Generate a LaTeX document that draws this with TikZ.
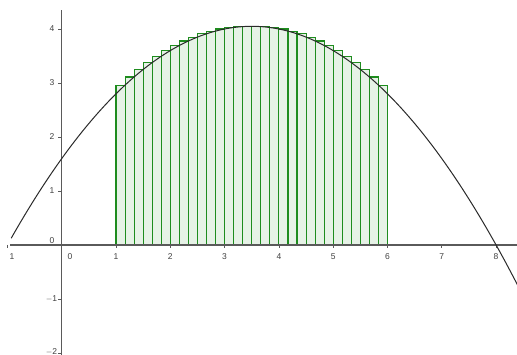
\documentclass[tikz,border=0pt]{standalone}
\usepackage{fontspec}
\setmainfont{Liberation Sans}
\definecolor{axisgray}{HTML}{5A5A5A}
\definecolor{labgray}{HTML}{404040}
\definecolor{rectgreen}{HTML}{1E8C1E}
\definecolor{rectfill}{HTML}{E6F2E6}
\definecolor{curvecol}{HTML}{2A2A2A}
\begin{document}
\begin{tikzpicture}[x=54.3pt,y=54pt,
  lab/.style={font=\fontsize{8.5}{9}\selectfont, text=labgray, inner sep=0pt},
  axisline/.style={draw=axisgray, line width=1.1pt},
  tickline/.style={draw=axisgray, line width=0.8pt},
  rectbar/.style={draw=rectgreen, fill=rectfill, line width=1.1pt},
  curveline/.style={draw=curvecol, line width=1pt}]
\useasboundingbox (-1.1363,-2.0370) rectangle (8.3849,4.5370);
\clip (-1.1363,-2.0370) rectangle (8.3849,4.5370);
% Riemann (upper) sum rectangles
\foreach \i in {0,...,29}{
  \pgfmathsetmacro{\xa}{1+\i/6}
  \pgfmathsetmacro{\xb}{1+(\i+1)/6}
  \pgfmathsetmacro{\xh}{ifthenelse(\i<15,\xb,\xa)}
  \pgfmathsetmacro{\hh}{-0.2*(\xh+1)*(\xh-8)}
  \draw[rectbar] (\xa,0) rectangle (\xb,\hh);
}
% axes
\coordinate (xl) at (-0.952,0);
\coordinate (xr) at (8.40,0);
\coordinate (yb) at (0,-2.05);
\coordinate (yt) at (0,4.36);
\draw[axisline] (xl) -- (xr);
\draw[axisline] (yb) -- (yt);
% x ticks and labels
\foreach \k in {-1,1,2,3,4,5,6,7,8}{
  \draw[tickline] (\k,0) -- ++(0,-3pt);
}
\node[lab] (xlm1) at (-0.915,-0.21) {1};
\node[lab] (xl0) at (0.153,-0.21) {0};
\foreach \k in {1,...,8}{
  \node[lab] (xl\k) at (\k,-0.21) {\k};
}
% y ticks and labels
\foreach \k in {-2,-1,1,2,3,4}{
  \draw[tickline] (0,\k) -- ++(-3.5pt,0);
}
\node[lab, anchor=east] (yl0) at (-0.13,0.09) {0};
\foreach \k in {1,...,4}{
  \node[lab, anchor=east] (yl\k) at (-0.13,\k) {\k};
}
\node[lab, anchor=east] (ylm1) at (-0.08,-1) {$-$1};
\node[lab, anchor=east] (ylm2) at (-0.08,-1.98) {$-$2};
% parabola
\draw[curveline] plot[domain=-0.93:8.5, samples=120, smooth] (\x,{-0.2*(\x+1)*(\x-8)});
\end{tikzpicture}
\end{document}
